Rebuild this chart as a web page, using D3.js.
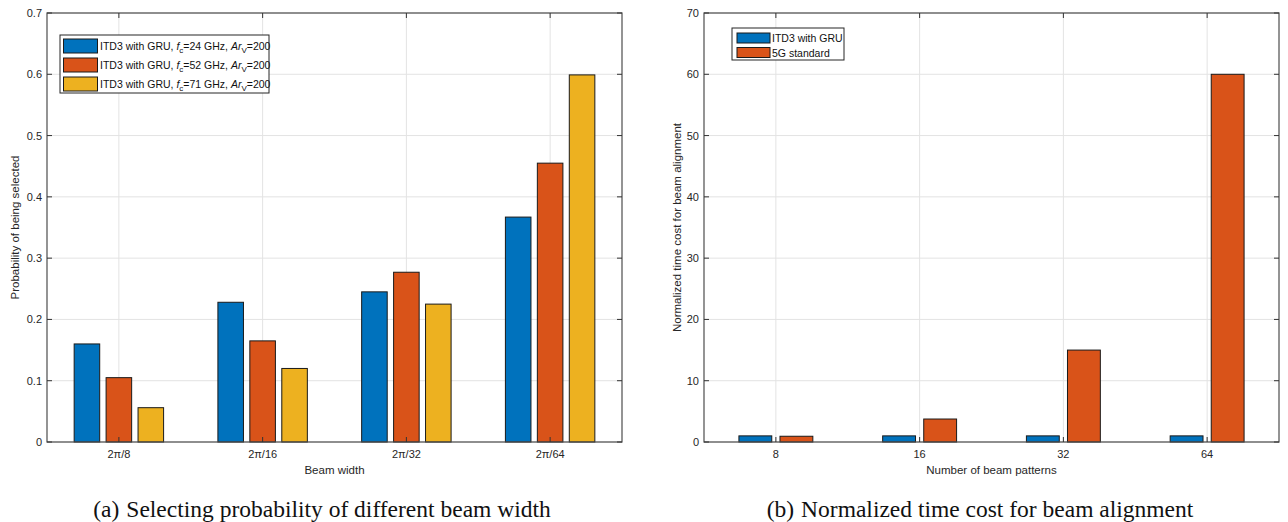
<!DOCTYPE html>
<html><head><meta charset="utf-8">
<script src="https://cdn.jsdelivr.net/npm/d3@7/dist/d3.min.js"></script>
<style>body{margin:0;background:#fff}svg{display:block}</style>
</head><body>
<svg id="c" width="1288" height="522"></svg>
<script>
// ---- Data ----
const catsA = ["2π/8", "2π/16", "2π/32", "2π/64"];
const seriesA = [
  {fc: "24", values: [0.160, 0.228, 0.245, 0.367]},
  {fc: "52", values: [0.105, 0.165, 0.277, 0.455]},
  {fc: "71", values: [0.056, 0.120, 0.225, 0.599]}
];
const yTicksA = [0, 0.1, 0.2, 0.3, 0.4, 0.5, 0.6, 0.7];

const catsB = ["8", "16", "32", "64"];
const seriesB = [
  {name: "ITD3 with GRU", values: [1, 1, 1, 1]},
  {name: "5G standard", values: [0.9375, 3.75, 15, 60]}
];
const yTicksB = [0, 10, 20, 30, 40, 50, 60, 70];

const colors = ["#0072BD", "#D95319", "#EDB120"];

const svg = d3.select("#c");
const FONT = "'Liberation Sans', Arial, Helvetica, sans-serif";
const TXT = "#262626";

function panel(opt) {
  const {x0, x1, y0, y1, cats, series, yMax, yTicks, yFmt, xTitle, yTitle, capLabel, caption, capX} = opt;
  const g = svg.append("g");
  const x = d3.scaleLinear().domain([0.5, cats.length + 0.5]).range([x0, x1]);
  const y = d3.scaleLinear().domain([0, yMax]).range([y1, y0]);
  const n = series.length;
  const groupW = Math.min(0.8, n / (n + 1.5));
  const step = groupW / n;
  const barW = step * 0.8;

  // grid
  g.selectAll(".gy").data(yTicks).join("line")
    .attr("x1", x0).attr("x2", x1).attr("y1", d => y(d)).attr("y2", d => y(d))
    .attr("stroke", "#e3e3e3").attr("stroke-width", 1);
  g.selectAll(".gx").data(cats).join("line")
    .attr("x1", (d, i) => x(i + 1)).attr("x2", (d, i) => x(i + 1))
    .attr("y1", y0).attr("y2", y1)
    .attr("stroke", "#e3e3e3").attr("stroke-width", 1);

  // bars
  series.forEach((s, si) => {
    const off = (si - (n - 1) / 2) * step;
    g.selectAll(".b" + si).data(s.values).join("rect")
      .attr("x", (d, i) => x(i + 1 + off - barW / 2))
      .attr("width", x(barW) - x(0))
      .attr("y", d => y(d))
      .attr("height", d => y(0) - y(d))
      .attr("fill", colors[si]).attr("stroke", "#1a1a1a").attr("stroke-width", 1);
  });

  // box
  g.append("rect").attr("x", x0).attr("y", y0).attr("width", x1 - x0).attr("height", y1 - y0)
    .attr("fill", "none").attr("stroke", "#4d4d4d").attr("stroke-width", 1.2);

  const tl = 5;
  yTicks.forEach(t => {
    g.append("line").attr("x1", x0).attr("x2", x0 + tl).attr("y1", y(t)).attr("y2", y(t)).attr("stroke", "#333");
    g.append("line").attr("x1", x1).attr("x2", x1 - tl).attr("y1", y(t)).attr("y2", y(t)).attr("stroke", "#333");
  });
  cats.forEach((c, i) => {
    g.append("line").attr("x1", x(i + 1)).attr("x2", x(i + 1)).attr("y1", y1).attr("y2", y1 - tl).attr("stroke", "#333");
    g.append("line").attr("x1", x(i + 1)).attr("x2", x(i + 1)).attr("y1", y0).attr("y2", y0 + tl).attr("stroke", "#333");
  });

  g.selectAll(".yl").data(yTicks).join("text")
    .attr("x", x0 - 5).attr("y", d => y(d) + 4)
    .attr("text-anchor", "end").attr("font-family", FONT).attr("font-size", 11).attr("fill", TXT)
    .text(yFmt);
  g.selectAll(".xl").data(cats).join("text")
    .attr("x", (d, i) => x(i + 1)).attr("y", y1 + 16)
    .attr("text-anchor", "middle").attr("font-family", FONT).attr("font-size", 11).attr("fill", TXT)
    .text(d => d);
  g.append("text").attr("x", (x0 + x1) / 2).attr("y", y1 + 32)
    .attr("text-anchor", "middle").attr("font-family", FONT).attr("font-size", 11.5).attr("fill", TXT)
    .text(xTitle);
  g.append("text").attr("transform", `translate(${opt.yTitleX},${(y0 + y1) / 2}) rotate(-90)`)
    .attr("text-anchor", "middle").attr("font-family", FONT).attr("font-size", 11.5).attr("fill", TXT)
    .text(yTitle);
  // caption
  const cap = svg.append("text").attr("x", capX).attr("y", 517)
    .attr("text-anchor", "middle").attr("font-family", "'Liberation Serif', 'Times New Roman', serif")
    .attr("font-size", 23.5).attr("fill", "#111");
  cap.append("tspan").text(capLabel);
  cap.append("tspan").attr("dx", 7).text(caption);
  return {g, x, y};
}

panel({x0: 47, x1: 622, y0: 13, y1: 442, cats: catsA, series: seriesA, yMax: 0.7,
  yTicks: yTicksA, yFmt: d => d === 0 ? "0" : d3.format(".1f")(d),
  xTitle: "Beam width", yTitle: "Probability of being selected", yTitleX: 19,
  capLabel: "(a)", caption: "Selecting probability of different beam width", capX: 322});

panel({x0: 704, x1: 1279, y0: 13, y1: 442, cats: catsB, series: seriesB, yMax: 70,
  yTicks: yTicksB, yFmt: d => d,
  xTitle: "Number of beam patterns", yTitle: "Normalized time cost for beam alignment", yTitleX: 681,
  capLabel: "(b)", caption: "Normalized time cost for beam alignment", capX: 980});

// ---- Legends ----
{
  const lg = svg.append("g");
  lg.append("rect").attr("x", 60).attr("y", 35).attr("width", 209).attr("height", 58)
    .attr("fill", "#fff").attr("stroke", "#262626").attr("stroke-width", 1);
  seriesA.forEach((s, i) => {
    const yy = 39 + i * 19;
    lg.append("rect").attr("x", 63.5).attr("y", yy).attr("width", 34).attr("height", 14)
      .attr("fill", colors[i]).attr("stroke", "#1a1a1a").attr("stroke-width", 1);
    const t = lg.append("text").attr("x", 100).attr("y", yy + 10.5)
      .attr("font-family", FONT).attr("font-size", 10.5).attr("fill", "#111");
    t.append("tspan").text("ITD3 with GRU, ");
    t.append("tspan").attr("font-style", "italic").text("f");
    t.append("tspan").attr("font-size", 8).attr("dy", 3).text("c");
    t.append("tspan").attr("dy", -3).text("=" + s.fc + " GHz, ");
    t.append("tspan").attr("font-style", "italic").text("Ar");
    t.append("tspan").attr("font-size", 8).attr("dy", 3).text("V");
    t.append("tspan").attr("dy", -3).text("=200");
  });
}
{
  const lg = svg.append("g");
  lg.append("rect").attr("x", 732).attr("y", 28).attr("width", 112).attr("height", 32)
    .attr("fill", "#fff").attr("stroke", "#262626").attr("stroke-width", 1);
  seriesB.forEach((s, i) => {
    const yy = 33 + i * 14.5;
    lg.append("rect").attr("x", 737).attr("y", yy).attr("width", 33).attr("height", 10)
      .attr("fill", colors[i]).attr("stroke", "#1a1a1a").attr("stroke-width", 1);
    lg.append("text").attr("x", 772).attr("y", yy + 9)
      .attr("font-family", FONT).attr("font-size", 10.5).attr("fill", "#111").text(s.name);
  });
}
</script>
</body></html>
